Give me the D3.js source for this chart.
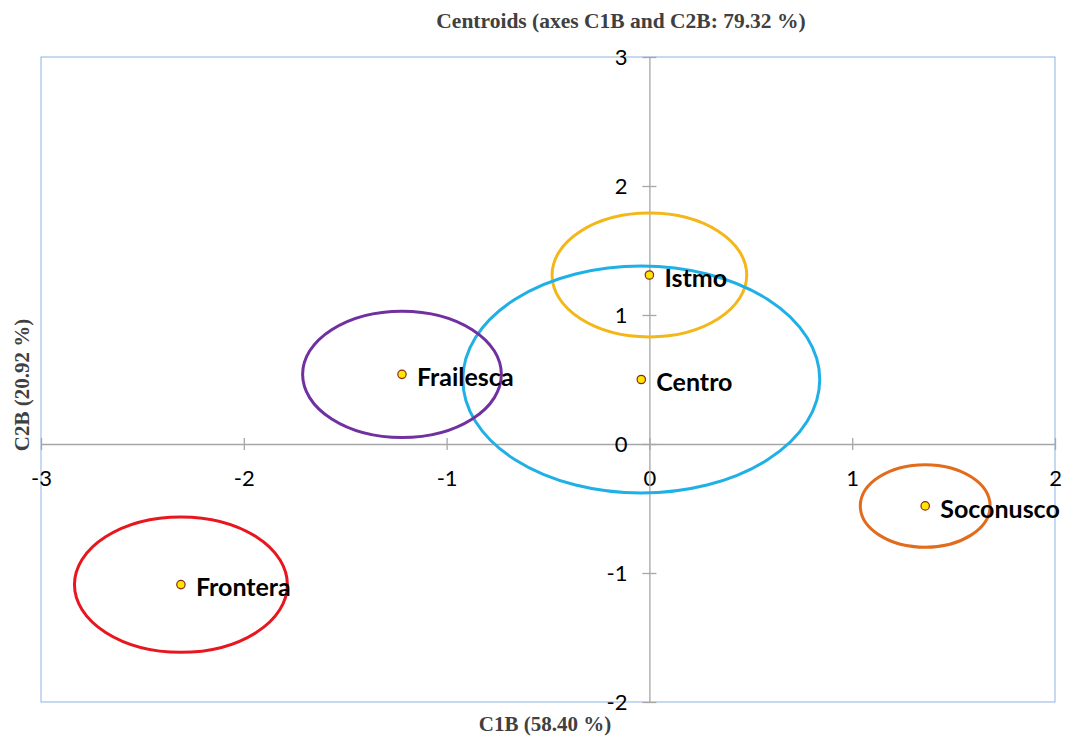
<!DOCTYPE html>
<html>
<head>
<meta charset="utf-8">
<script src="https://cdn.jsdelivr.net/npm/d3@7"></script>
<style>
  html, body { margin: 0; padding: 0; background: #fff; }
  svg { display: block; }
</style>
</head>
<body>
<svg id="chart" width="1075" height="736"></svg>
<script>
// Group centroids on the first two canonical axes
const groups    = ["Istmo", "Centro", "Frailesca", "Soconusco", "Frontera"];
const c1b       = [0.00, -0.04, -1.22, 1.36, -2.31];
const c2b       = [1.31, 0.50, 0.54, -0.48, -1.09];
// Confidence circle radius around each centroid (axis units)
const radius    = [0.48, 0.88, 0.49, 0.32, 0.525];
const colors    = ["#f4b71a", "#1fb0e6", "#7030a0", "#e26b1c", "#e8161e"];

const xTicks = [-3, -2, -1, 0, 1, 2];
const yTicks = [-2, -1, 0, 1, 2, 3];

const svg = d3.select("#chart");
const plotLeft = 41, plotRight = 1055, plotTop = 57, plotBottom = 702;

const x = d3.scaleLinear().domain([-3, 2]).range([plotLeft, plotRight]);
const y = d3.scaleLinear().domain([-2, 3]).range([plotBottom, plotTop]);

// Plot frame
svg.append("rect")
  .attr("x", plotLeft).attr("y", plotTop)
  .attr("width", plotRight - plotLeft).attr("height", plotBottom - plotTop)
  .attr("fill", "none").attr("stroke", "#8db3e2").attr("stroke-width", 1);

const tickFont = "Lato, 'Open Sans', sans-serif";

// Horizontal axis through y = 0
const xAxis = svg.append("g")
  .attr("transform", `translate(0,${y(0)})`)
  .call(d3.axisBottom(x).tickValues(xTicks).tickSize(6).tickSizeOuter(0).tickFormat(d3.format("d")));
xAxis.select(".domain").attr("stroke", "#a6a6a6").attr("stroke-width", 1.3);
xAxis.selectAll(".tick line").attr("y1", -6).attr("y2", 6).attr("stroke", "#a6a6a6").attr("stroke-width", 1.3);
xAxis.selectAll(".tick text")
  .attr("y", 34).attr("dy", "0.35em")
  .attr("font-family", tickFont).attr("font-size", 22).attr("fill", "#000")
  .text(d => d < 0 ? "-" + Math.abs(d) : d);

// Vertical axis through x = 0
const yAxis = svg.append("g")
  .attr("transform", `translate(${x(0)},0)`)
  .call(d3.axisLeft(y).tickValues(yTicks).tickSize(6).tickSizeOuter(0).tickFormat(d3.format("d")));
yAxis.select(".domain").attr("stroke", "#a6a6a6").attr("stroke-width", 1.3);
yAxis.selectAll(".tick line").attr("x1", -7).attr("x2", 7).attr("stroke", "#a6a6a6").attr("stroke-width", 1.3);
yAxis.selectAll(".tick text")
  .attr("x", -22).attr("dy", "0.35em")
  .attr("font-family", tickFont).attr("font-size", 22).attr("fill", "#000")
  .text(d => d < 0 ? "-" + Math.abs(d) : d);

const data = groups.map((g, i) => ({ name: g, cx: c1b[i], cy: c2b[i], r: radius[i], color: colors[i] }));

// Confidence ellipses (circles in data space)
svg.append("g").selectAll("ellipse").data(data).join("ellipse")
  .attr("cx", d => x(d.cx)).attr("cy", d => y(d.cy))
  .attr("rx", d => x(d.cx + d.r) - x(d.cx))
  .attr("ry", d => y(d.cy) - y(d.cy + d.r))
  .attr("fill", "none").attr("stroke", d => d.color).attr("stroke-width", 3);

// Centroid markers
svg.append("g").selectAll("circle").data(data).join("circle")
  .attr("cx", d => x(d.cx)).attr("cy", d => y(d.cy))
  .attr("r", 4.2)
  .attr("fill", "#ffe600").attr("stroke", "#8b2a10").attr("stroke-width", 1.2);

// Group labels
svg.append("g").selectAll("text").data(data).join("text")
  .attr("x", d => x(d.cx) + 15).attr("y", d => y(d.cy) + 3)
  .attr("dy", "0.35em")
  .attr("font-family", "Lato, 'Open Sans', sans-serif").attr("font-weight", "bold")
  .attr("font-size", 25).attr("fill", "#000")
  .text(d => d.name);

const titleFont = "'Liberation Serif', 'DejaVu Serif', serif";

svg.append("text")
  .attr("x", 621).attr("y", 28)
  .attr("text-anchor", "middle")
  .attr("font-family", titleFont).attr("font-weight", "bold").attr("font-size", 21.5)
  .attr("fill", "#404040")
  .text("Centroids (axes C1B and C2B: 79.32 %)");

svg.append("text")
  .attr("x", 545).attr("y", 731)
  .attr("text-anchor", "middle")
  .attr("font-family", titleFont).attr("font-weight", "bold").attr("font-size", 21)
  .attr("fill", "#404040")
  .text("C1B (58.40 %)");

svg.append("text")
  .attr("transform", "translate(29,385) rotate(-90)")
  .attr("text-anchor", "middle")
  .attr("font-family", titleFont).attr("font-weight", "bold").attr("font-size", 21)
  .attr("fill", "#404040")
  .text("C2B (20.92 %)");
</script>
</body>
</html>
